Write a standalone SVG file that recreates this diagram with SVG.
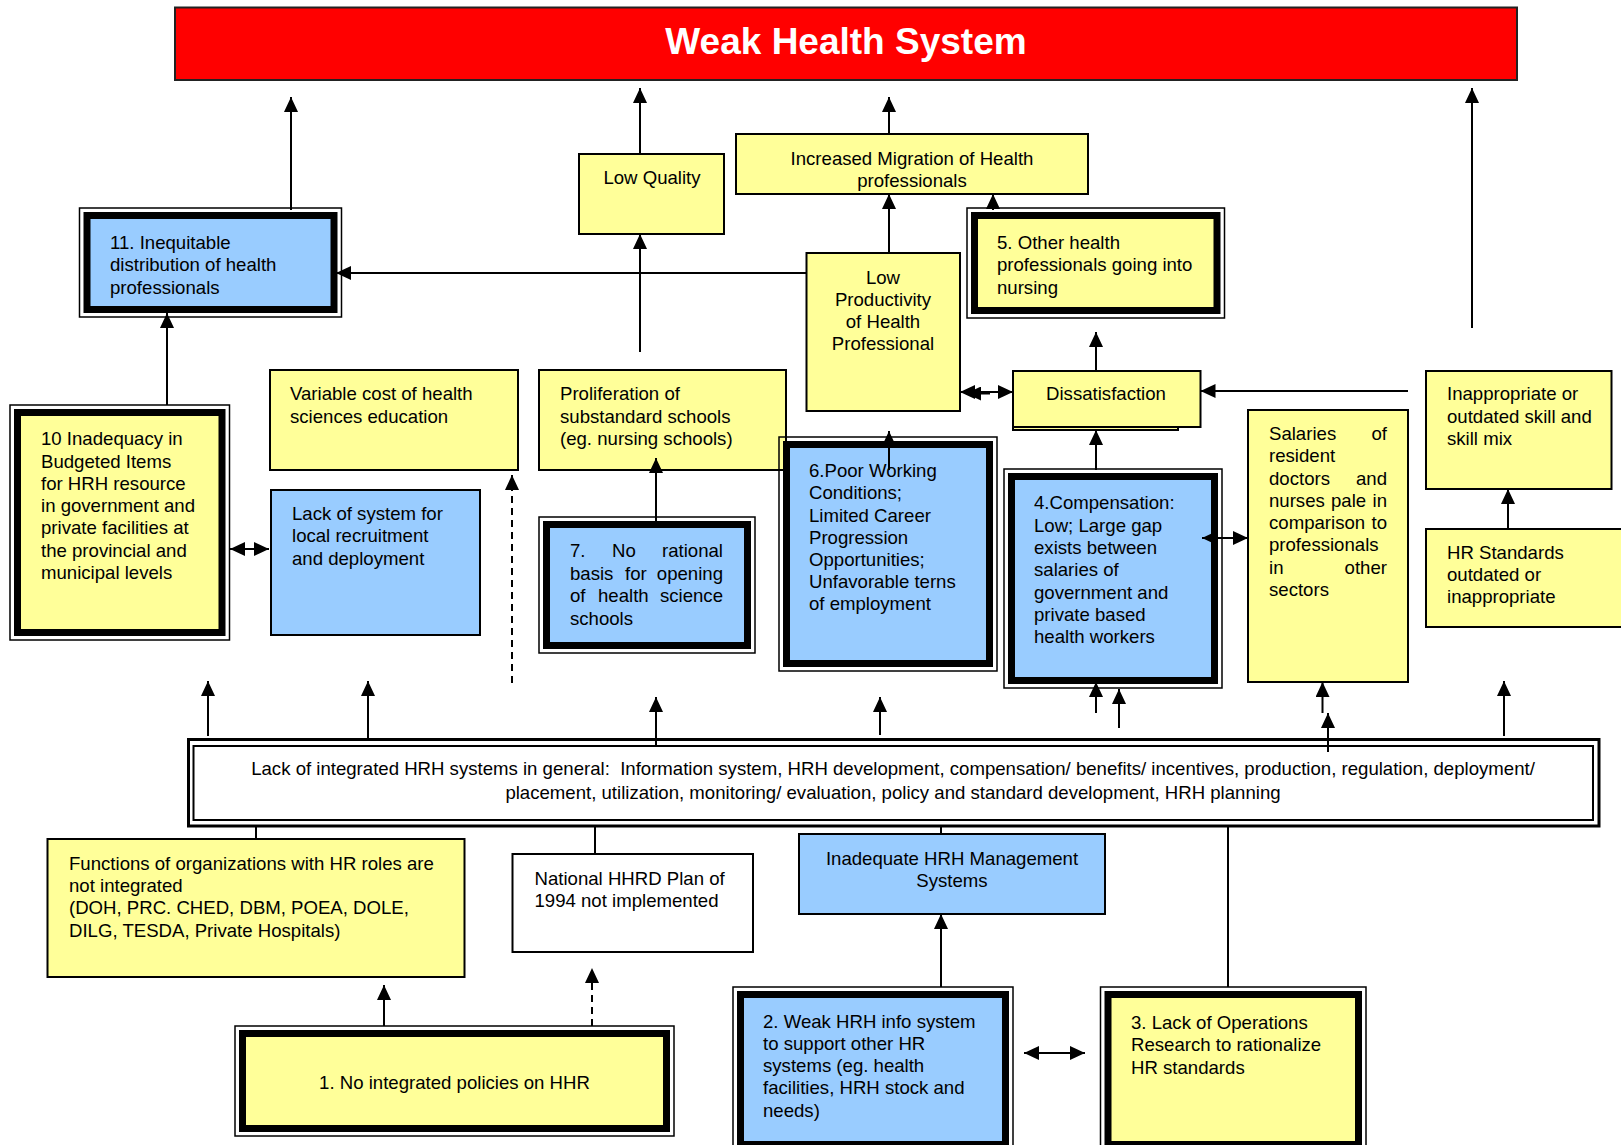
<svg xmlns="http://www.w3.org/2000/svg" width="1621" height="1145" viewBox="0 0 1621 1145">
<style>
text{font-family:"Liberation Sans",Arial,sans-serif;font-size:18.6px;fill:#000;transform:translate(0px,1.5px)}
.c{text-anchor:middle}
.e{text-anchor:end}
.y{fill:#FFFF99;stroke:#000;stroke-width:2}
.b{fill:#99CCFF;stroke:#000;stroke-width:2}
.w{fill:#fff;stroke:#000;stroke-width:2}
.yb{fill:#FFFF99;stroke:#000;stroke-width:7}
.bb{fill:#99CCFF;stroke:#000;stroke-width:7}
.o{fill:none;stroke:#000;stroke-width:1.5}
.l{stroke:#000;stroke-width:2;fill:none}
.a{marker-end:url(#ah)}
.d{marker-start:url(#ah);marker-end:url(#ah)}
.dash{stroke-dasharray:7,5}
</style>
<defs>
<marker id="ah" markerUnits="userSpaceOnUse" markerWidth="16" markerHeight="14" refX="15" refY="7" orient="auto-start-reverse"><path d="M0,0 L15,7 L0,14 z" fill="#000"/></marker>
</defs>
<rect width="1621" height="1145" fill="#fff"/>

<g id="title">
<rect x="175" y="7.5" width="1342" height="72.5" fill="#FF0000" stroke="#222" stroke-width="2"/>
<text x="846" y="52.5" class="c" style="font-size:37px;font-weight:bold;fill:#fff">Weak Health System</text>
</g>

<g id="lowquality">
<rect class="y" x="579" y="154" width="145" height="80"/>
<text x="652" y="182" class="c">Low Quality</text>
</g>

<g id="migration">
<rect class="y" x="736" y="134" width="352" height="60"/>
<text x="912" y="163" class="c">Increased Migration of Health</text>
<text x="912" y="185" class="c">professionals</text>
</g>

<g id="box11">
<rect class="o" x="79.5" y="208" width="262" height="109"/>
<rect class="bb" x="87" y="215.5" width="247" height="94"/>
<text x="110" y="247">11. Inequitable</text>
<text x="110" y="269">distribution of health</text>
<text x="110" y="292">professionals</text>
</g>

<g id="lowprod">
<rect class="y" x="806.5" y="253" width="153.5" height="158"/>
<text x="883" y="282" class="c">Low</text>
<text x="883" y="304" class="c">Productivity</text>
<text x="883" y="326" class="c">of Health</text>
<text x="883" y="348" class="c">Professional</text>
</g>

<g id="box5">
<rect class="o" x="967" y="208" width="257.5" height="110"/>
<rect class="yb" x="974.5" y="215.5" width="242.5" height="95"/>
<text x="997" y="247">5. Other health</text>
<text x="997" y="269">professionals going into</text>
<text x="997" y="292">nursing</text>
</g>

<g id="variable">
<rect class="y" x="270" y="370" width="248" height="100"/>
<text x="290" y="398">Variable cost of health</text>
<text x="290" y="421">sciences education</text>
</g>

<g id="prolif">
<rect class="y" x="539" y="370" width="247" height="100"/>
<text x="560" y="398">Proliferation of</text>
<text x="560" y="421">substandard schools</text>
<text x="560" y="443">(eg. nursing schools)</text>
</g>

<g id="dissatisfaction">
<rect class="y" x="1013" y="380" width="165" height="50"/>
<rect class="y" x="1013" y="371" width="187.5" height="56"/>
<text x="1106" y="398" class="c">Dissatisfaction</text>
</g>

<g id="inappropriate">
<rect class="y" x="1426" y="371" width="185.5" height="118"/>
<text x="1447" y="398">Inappropriate or</text>
<text x="1447" y="421">outdated skill and</text>
<text x="1447" y="443">skill mix</text>
</g>

<g id="salaries">
<rect class="y" x="1248" y="410" width="160" height="272"/>
<text x="1269" y="438">Salaries</text><text x="1387" y="438" class="e">of</text>
<text x="1269" y="460">resident</text>
<text x="1269" y="483">doctors</text><text x="1387" y="483" class="e">and</text>
<text x="1269" y="505">nurses</text><text x="1331" y="505">pale</text><text x="1387" y="505" class="e">in</text>
<text x="1269" y="527">comparison</text><text x="1387" y="527" class="e">to</text>
<text x="1269" y="549">professionals</text>
<text x="1269" y="572">in</text><text x="1387" y="572" class="e">other</text>
<text x="1269" y="594">sectors</text>
</g>

<g id="hrstandards">
<rect class="y" x="1426" y="529" width="200" height="98"/>
<text x="1447" y="557">HR Standards</text>
<text x="1447" y="579">outdated or</text>
<text x="1447" y="601">inappropriate</text>
</g>

<g id="box10">
<rect class="o" x="10" y="405" width="219.5" height="235"/>
<rect class="yb" x="17.5" y="412.5" width="204.5" height="220"/>
<text x="41" y="443">10 Inadequacy in</text>
<text x="41" y="466">Budgeted Items</text>
<text x="41" y="488">for HRH resource</text>
<text x="41" y="510">in government and</text>
<text x="41" y="532">private facilities at</text>
<text x="41" y="555">the provincial and</text>
<text x="41" y="577">municipal levels</text>
</g>

<g id="lacksystem">
<rect class="b" x="271" y="490" width="209" height="145"/>
<text x="292" y="518">Lack of system for</text>
<text x="292" y="540">local recruitment</text>
<text x="292" y="563">and deployment</text>
</g>

<g id="box7">
<rect class="o" x="539" y="517" width="216" height="136"/>
<rect class="bb" x="546.5" y="524.5" width="201" height="121"/>
<text x="570" y="555">7.</text><text x="612" y="555">No</text><text x="723" y="555" class="e">rational</text>
<text x="570" y="578">basis</text><text x="625" y="578">for</text><text x="723" y="578" class="e">opening</text>
<text x="570" y="600">of</text><text x="598" y="600">health</text><text x="723" y="600" class="e">science</text>
<text x="570" y="623">schools</text>
</g>

<g id="box6">
<rect class="o" x="779" y="437" width="218" height="234"/>
<rect class="bb" x="786.5" y="444.5" width="203" height="219"/>
<text x="809" y="475">6.Poor Working</text>
<text x="809" y="497">Conditions;</text>
<text x="809" y="520">Limited Career</text>
<text x="809" y="542">Progression</text>
<text x="809" y="564">Opportunities;</text>
<text x="809" y="586">Unfavorable terns</text>
<text x="809" y="608">of employment</text>
</g>

<g id="box4">
<rect class="o" x="1004" y="469" width="218" height="219"/>
<rect class="bb" x="1011.5" y="476.5" width="203" height="204"/>
<text x="1034" y="507">4.Compensation:</text>
<text x="1034" y="530">Low; Large gap</text>
<text x="1034" y="552">exists between</text>
<text x="1034" y="574">salaries of</text>
<text x="1034" y="597">government and</text>
<text x="1034" y="619">private based</text>
<text x="1034" y="641">health workers</text>
</g>

<g id="lackintegrated">
<rect x="188.5" y="739.5" width="1410.5" height="86.5" fill="#fff" stroke="#000" stroke-width="3"/>
<rect x="193.5" y="746" width="1399.5" height="74" fill="#fff" stroke="#000" stroke-width="2"/>
<text x="893" y="773.5" class="c" style="white-space:pre">Lack of integrated HRH systems in general:  Information system, HRH development, compensation/ benefits/ incentives, production, regulation, deployment/</text>
<text x="893" y="797" class="c">placement, utilization, monitoring/ evaluation, policy and standard development, HRH planning</text>
</g>

<g id="functions">
<rect class="y" x="47.5" y="839" width="417" height="138"/>
<text x="69" y="868">Functions of organizations with HR roles are</text>
<text x="69" y="890">not integrated</text>
<text x="69" y="912">(DOH, PRC. CHED, DBM, POEA, DOLE,</text>
<text x="69" y="935">DILG, TESDA, Private Hospitals)</text>
</g>

<g id="national">
<rect class="w" x="512.5" y="854" width="240.5" height="98"/>
<text x="534.5" y="883">National HHRD Plan of</text>
<text x="534.5" y="905">1994 not implemented</text>
</g>

<g id="inadequate">
<rect class="b" x="799" y="834" width="306" height="80"/>
<text x="952" y="863" class="c">Inadequate HRH Management</text>
<text x="952" y="885" class="c">Systems</text>
</g>

<g id="box1">
<rect class="o" x="235" y="1026" width="439" height="110"/>
<rect class="yb" x="242.5" y="1033.5" width="424" height="95"/>
<text x="454.5" y="1087" class="c">1. No integrated policies on HHR</text>
</g>

<g id="box2">
<rect class="o" x="733" y="987" width="280" height="165"/>
<rect class="bb" x="740.5" y="994.5" width="265" height="150"/>
<text x="763" y="1026">2. Weak HRH info system</text>
<text x="763" y="1048">to support other HR</text>
<text x="763" y="1070">systems (eg. health</text>
<text x="763" y="1092">facilities, HRH stock and</text>
<text x="763" y="1115">needs)</text>
</g>

<g id="box3">
<rect class="o" x="1100.5" y="987" width="265.5" height="165"/>
<rect class="yb" x="1108" y="994.5" width="250.5" height="150"/>
<text x="1131" y="1027">3. Lack of Operations</text>
<text x="1131" y="1049">Research to rationalize</text>
<text x="1131" y="1072">HR standards</text>
</g>

<g id="connectors">
<path class="l a" d="M291,210 V97"/>
<path class="l a" d="M640,154 V88"/>
<path class="l a" d="M889,134 V97"/>
<path class="l a" d="M1472,328 V88"/>
<path class="l a" d="M889,253 V194"/>
<path class="l a" d="M993,210 V194"/>
<path class="l a" d="M640,352 V234"/>
<path class="l a" d="M806,273 H336"/>
<path class="l a" d="M167,405 V313"/>
<path class="l a" d="M1096,371 V332"/>
<path class="l d" d="M960,392 H1013"/>
<path class="l" style="marker-start:url(#ah)" d="M966,393.5 H990"/>
<path class="l a" d="M1408,391 H1200.5"/>
<path class="l a" d="M1096,470 V430"/>
<path class="l a" d="M889,470 V431"/>
<path class="l d" d="M230,549 H269"/>
<path class="l a dash" d="M512,683 V475"/>
<path class="l a" d="M656,522 V458"/>
<path class="l d" d="M1202,538 H1248"/>
<path class="l a" d="M1508,529 V489"/>
<path class="l a" d="M208,736 V681"/>
<path class="l a" d="M368,740 V681"/>
<path class="l a" d="M656,745 V697"/>
<path class="l a" d="M880,735 V697"/>
<path class="l a" d="M1096,713 V682"/>
<path class="l a" d="M1119,728 V689"/>
<path class="l a" d="M1322.5,713 V682"/>
<path class="l a" d="M1328,752 V713"/>
<path class="l a" d="M1504,736 V681"/>
<path class="l" d="M256,826 V839"/>
<path class="l" d="M595,826 V854"/>
<path class="l" d="M941,826 V834"/>
<path class="l" d="M1228,987 V826"/>
<path class="l a" d="M384,1026 V985"/>
<path class="l a dash" d="M592,1026 V968"/>
<path class="l a" d="M941,987 V914"/>
<path class="l d" d="M1024,1053 H1085"/>
</g>
</svg>
